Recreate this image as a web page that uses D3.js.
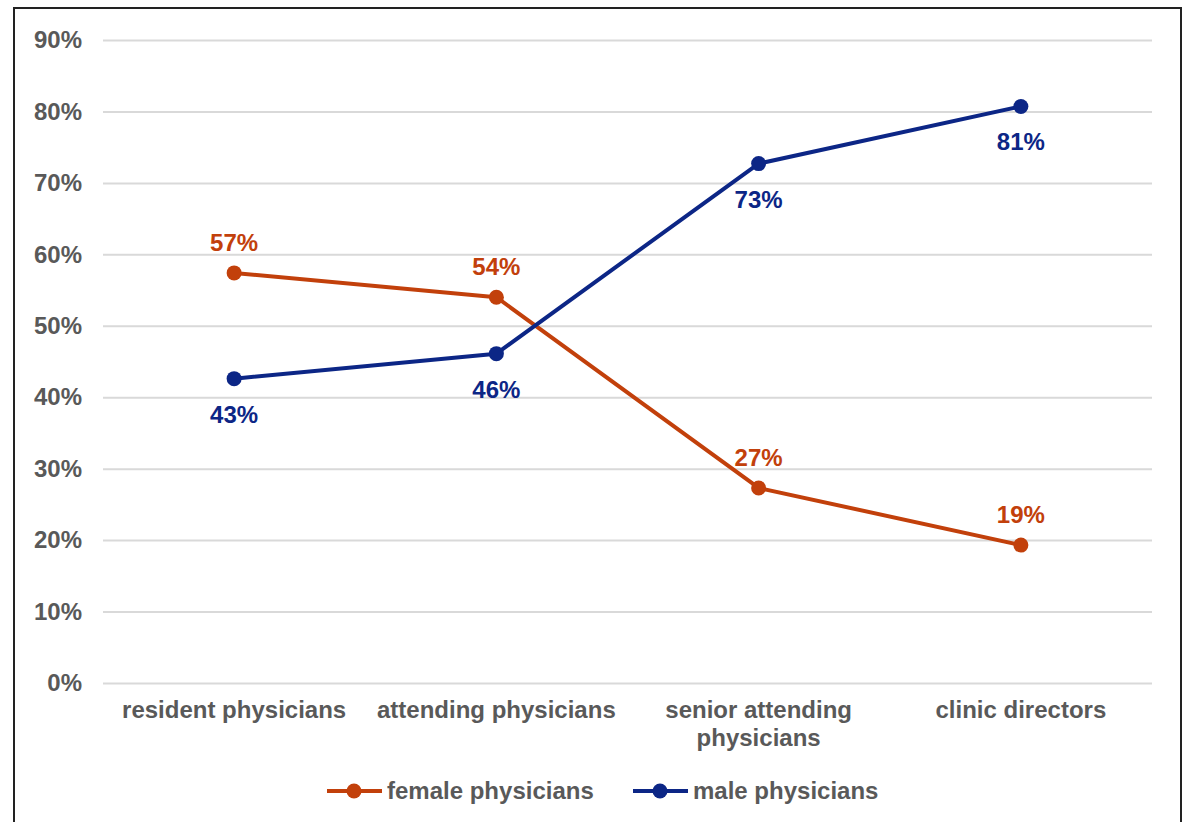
<!DOCTYPE html>
<html>
<head>
<meta charset="utf-8">
<script src="https://cdn.jsdelivr.net/npm/d3@7"></script>
<style>
  body { margin: 0; background: #fff; }
  text { font-family: "Liberation Sans", Arial, sans-serif; font-weight: bold; }
</style>
</head>
<body>
<div id="chart"></div>
<script>
const categories = [["resident physicians"], ["attending physicians"], ["senior attending", "physicians"], ["clinic directors"]]
const female = [57.4, 54.0, 27.3, 19.3]
const male = [42.6, 46.1, 72.7, 80.7]
const labelsFemale = ["57%", "54%", "27%", "19%"]
const labelsMale = ["43%", "46%", "73%", "81%"]
const yTicks = [0, 10, 20, 30, 40, 50, 60, 70, 80, 90]

const W = 1184, H = 822
const MARGIN = { TOP: 40, LEFT: 103, RIGHT: 32, BOTTOM: 139 }
const ORANGE = "#c2400b", NAVY = "#0c2686"
const GREY = "#595959"

const svg = d3.select("#chart").append("svg")
    .attr("width", W).attr("height", H)

// chart frame
svg.append("rect")
    .attr("x", 14).attr("y", 8).attr("width", 1167).attr("height", 830)
    .attr("fill", "none").attr("stroke", "#222").attr("stroke-width", 2)

const x = d3.scaleBand()
    .domain(categories.map((d, i) => i))
    .range([MARGIN.LEFT, W - MARGIN.RIGHT])
const y = d3.scaleLinear()
    .domain([0, 90])
    .range([H - MARGIN.BOTTOM, MARGIN.TOP])

// gridlines + y labels
const yAxis = svg.append("g")
    .attr("transform", `translate(${MARGIN.LEFT},0)`)
    .call(d3.axisLeft(y).tickValues(yTicks).tickFormat(d => d + "%")
        .tickSize(-(W - MARGIN.LEFT - MARGIN.RIGHT)).tickPadding(21))
yAxis.select(".domain").remove()
yAxis.selectAll(".tick line").attr("stroke", "#d9d9d9").attr("stroke-width", 2)
yAxis.selectAll(".tick text").attr("fill", GREY).attr("font-size", 24)
    .attr("font-family", "Liberation Sans, Arial, sans-serif").attr("font-weight", "bold")

// x labels
const xLab = svg.append("g")
categories.forEach((lines, i) => {
    const t = xLab.append("text")
        .attr("x", x(i) + x.bandwidth() / 2).attr("y", H - MARGIN.BOTTOM + 35)
        .attr("text-anchor", "middle").attr("fill", GREY).attr("font-size", 24)
    lines.forEach((l, j) => t.append("tspan")
        .attr("x", x(i) + x.bandwidth() / 2).attr("dy", j === 0 ? 0 : 28).text(l))
})

const cx = i => x(i) + x.bandwidth() / 2
const line = d3.line().x((d, i) => cx(i)).y(d => y(d))

function drawSeries(vals, labels, color, above) {
    const g = svg.append("g")
    g.append("path").datum(vals)
        .attr("d", line).attr("fill", "none")
        .attr("stroke", color).attr("stroke-width", 4).attr("stroke-linejoin", "round")
    g.selectAll("circle").data(vals).enter().append("circle")
        .attr("cx", (d, i) => cx(i)).attr("cy", d => y(d)).attr("r", 7.5)
        .attr("fill", color)
    g.selectAll("text").data(vals).enter().append("text")
        .attr("x", (d, i) => cx(i))
        .attr("y", d => y(d) + (above ? -22 : 44))
        .attr("text-anchor", "middle").attr("fill", color).attr("font-size", 24)
        .text((d, i) => labels[i])
}
drawSeries(female, labelsFemale, ORANGE, true)
drawSeries(male, labelsMale, NAVY, false)

// legend
const legend = [["female physicians", ORANGE, 327], ["male physicians", NAVY, 633]]
legend.forEach(([name, color, lx]) => {
    const g = svg.append("g").attr("transform", `translate(${lx},791)`)
    g.append("line").attr("x1", 0).attr("x2", 55).attr("y1", 0).attr("y2", 0)
        .attr("stroke", color).attr("stroke-width", 4)
    g.append("circle").attr("cx", 27).attr("cy", 0).attr("r", 7.5).attr("fill", color)
    g.append("text").attr("x", 60).attr("y", 8).attr("fill", GREY)
        .attr("font-size", 24).text(name)
})
</script>
</body>
</html>
